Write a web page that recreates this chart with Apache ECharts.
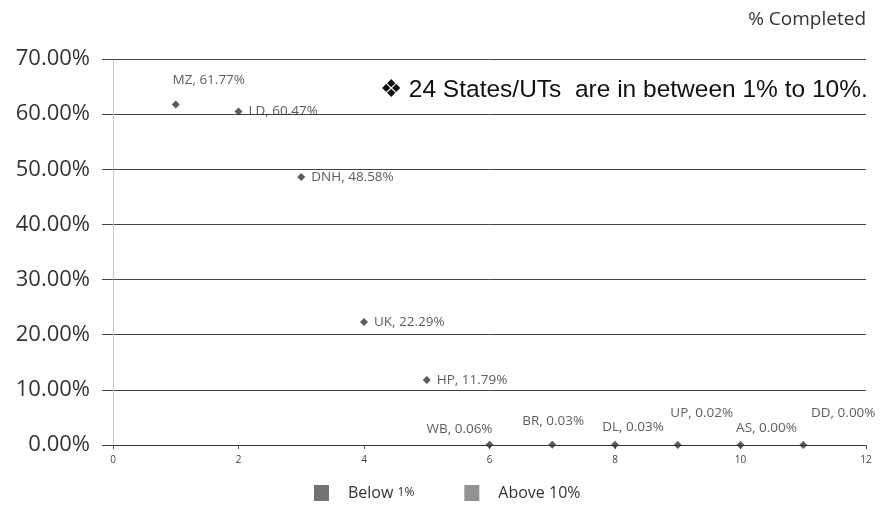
<!DOCTYPE html>
<html>
<head>
<meta charset="utf-8">
<script src="https://cdn.jsdelivr.net/npm/echarts@6/dist/echarts.min.js"></script>
<style>
  html, body { margin: 0; padding: 0; background: #fff; }
</style>
</head>
<body>
<div id="chart" style="width: 881px; height: 507px;"></div>
<script>
// states / UTs and their % completed
var states = ['MZ', 'LD', 'DNH', 'UK', 'HP', 'WB', 'BR', 'DL', 'UP', 'AS', 'DD'];
var xPos = [1, 2, 3, 4, 5, 6, 7, 8, 9, 10, 11];
var completed = [61.77, 60.47, 48.58, 22.29, 11.79, 0.06, 0.03, 0.03, 0.02, 0.00, 0.00];
var xTicks = [0, 2, 4, 6, 8, 10, 12];
var yTicks = [0, 10, 20, 30, 40, 50, 60, 70];

// where each label sits relative to its point
var labelPos = {
  MZ: { position: 'top', offset: [33, -8] },
  LD: { position: 'right', distance: 6 },
  DNH: { position: 'right', distance: 6 },
  UK: { position: 'right', distance: 6 },
  HP: { position: 'right', distance: 6 },
  WB: { position: 'top', offset: [-30, 0] },
  BR: { position: 'top', offset: [1, -8] },
  DL: { position: 'top', offset: [18, -2] },
  UP: { position: 'top', offset: [24, -16] },
  AS: { position: 'top', offset: [26, -1] },
  DD: { position: 'top', offset: [40, -16] }
};

function build(filter) {
  var out = [];
  for (var i = 0; i < states.length; i++) {
    if (!filter(completed[i])) continue;
    out.push({
      name: states[i],
      value: [xPos[i], completed[i]],
      label: labelPos[states[i]]
    });
  }
  return out;
}

var chart = echarts.init(document.getElementById('chart'));

var pointStyle = {
  type: 'scatter',
  symbol: 'diamond',
  symbolSize: 8,
  itemStyle: { color: '#2f3432' },
  label: {
    show: true,
    color: '#333',
    fontSize: 13.5,
    fontFamily: 'Open Sans',
    formatter: function (p) {
      return p.name + ', ' + p.value[1].toFixed(2) + '%';
    }
  }
};

var option = {
  animation: false,
  textStyle: { fontFamily: 'Open Sans' },
  title: {
    text: '% Completed',
    right: 10,
    top: 5,
    textStyle: { fontSize: 19, fontWeight: 'normal', color: '#333', fontFamily: 'Open Sans' }
  },
  grid: { left: 113, right: 15, top: 59, bottom: 62 },
  legend: {
    bottom: 1,
    left: 309,
    itemWidth: 15,
    itemHeight: 16,
    itemGap: 50,
    icon: 'rect',
    textStyle: {
      fontSize: 16, color: '#333', fontFamily: 'Open Sans',
      padding: [0, 0, 0, 14],
      rich: { s: { fontSize: 12, color: '#333', fontFamily: 'Open Sans' } }
    },
    formatter: function (name) {
      if (name === 'Below 1%') return 'Below {s|1%}';
      return name;
    },
    data: [
      { name: 'Below 1%', itemStyle: { color: '#505050' } },
      { name: 'Above 10%', itemStyle: { color: '#777' } }
    ]
  },
  xAxis: {
    type: 'value',
    min: xTicks[0],
    max: xTicks[xTicks.length - 1],
    interval: 2,
    splitLine: { show: false },
    axisLine: { onZero: false, lineStyle: { color: '#333' } },
    axisTick: { show: true, length: 4, lineStyle: { color: '#555' } },
    axisLabel: { fontSize: 10, color: '#444', margin: 10 }
  },
  yAxis: {
    type: 'value',
    min: yTicks[0],
    max: yTicks[yTicks.length - 1],
    interval: 10,
    axisLine: { show: true, lineStyle: { color: '#bbb', type: 'dotted' } },
    axisTick: { show: true, length: 11, lineStyle: { color: '#444' } },
    splitLine: { lineStyle: { color: '#444', width: 1 } },
    axisLabel: {
      fontSize: 22,
      color: '#333',
      margin: 23,
      formatter: function (v) { return v.toFixed(2) + '%'; }
    }
  },
  graphic: [{
    type: 'text',
    left: 380,
    top: 78,
    style: {
      text: '\u2756 24 States/UTs  are in between 1% to 10%.',
      font: '24.5px "Liberation Sans", Arial, sans-serif',
      fill: '#111'
    }
  }],
  series: [
    Object.assign({ name: 'Above 10%', data: build(function (v) { return v >= 10; }) }, pointStyle),
    Object.assign({ name: 'Below 1%', data: build(function (v) { return v < 1; }) }, pointStyle)
  ]
};

chart.setOption(option);
</script>
</body>
</html>
